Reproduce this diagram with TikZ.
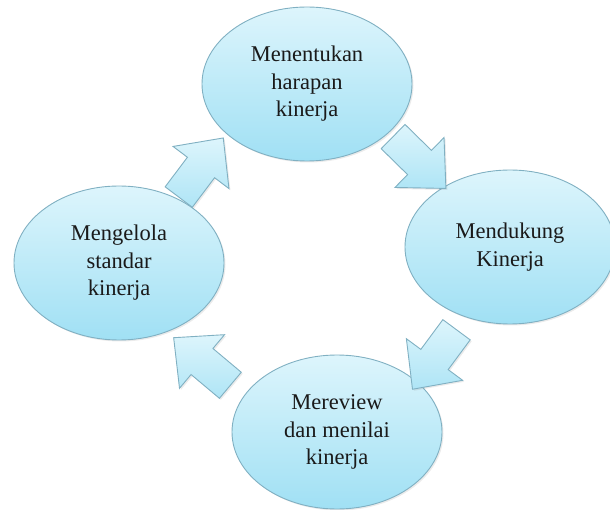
\documentclass[tikz,border=0pt]{standalone}
\usepackage{fontspec}
\setmainfont{Liberation Serif}
\usetikzlibrary{shapes.geometric,shadows,calc}
\definecolor{rim}{HTML}{80B0C2}
\definecolor{skytop}{HTML}{DDF5FC}
\definecolor{skybot}{HTML}{A0E0F4}
\definecolor{ink}{HTML}{1A1A1A}
\tikzset{
    soft/.style={drop shadow={opacity=0.16,shadow xshift=1.5pt,shadow yshift=-1.5pt}},
    phase/.style={ellipse,draw=rim,line width=0.9pt,top color=skytop,bottom color=skybot,
        minimum width=210,minimum height=154,inner sep=0pt,align=center,text=ink,
        font=\fontsize{22.5}{27.5}\selectfont,soft},
    flow/.pic={
        \draw[draw=rim,line width=0.9pt,top color=skytop,bottom color=skybot!85,soft]
            (-37,-17) -- (0,-17) -- (0,-35) -- (37,0) -- (0,35) -- (0,17) -- (-37,17) -- cycle;
    }
}

\begin{document}
\begin{tikzpicture}[x=1pt,y=-1pt]
    \useasboundingbox (0,0) rectangle (610,510);

    % the four stages
    \node[phase] (tentukan) at (307,84)  {Menentukan\\harapan\\kinerja};
    \node[phase] (dukung)   at (510,247) {Mendukung\\Kinerja};
    \node[phase] (review)   at (337,432) {Mereview\\dan menilai\\kinerja};
    \node[phase] (kelola)   at (119,263) {Mengelola\\standar\\kinerja};

    % block arrows between the stages
    \pic[rotate=53]     at ($(kelola)!0.5!(tentukan)+(-12,-6)$) {flow};
    \pic[rotate=-44.5]  at ($(tentukan)!0.5!(dukung)+(11,-3)$)  {flow};
    \pic[rotate=-126.5] at ($(dukung)!0.5!(review)+(11,20)$)    {flow};
    \pic[rotate=140]    at ($(review)!0.5!(kelola)+(-26,14)$)   {flow};

\end{tikzpicture}
\end{document}
